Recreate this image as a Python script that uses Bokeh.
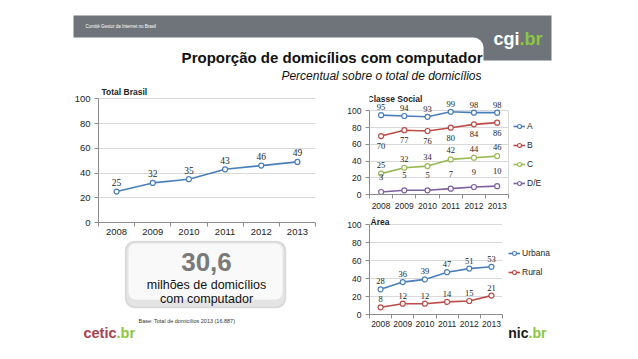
from bokeh.plotting import figure
from bokeh.layouts import column, row
from bokeh.models import (ColumnDataSource, LabelSet, Label, Legend, LegendItem,
                          FixedTicker, Range1d, BoxAnnotation)
from bokeh.embed import file_html
from bokeh.resources import INLINE

# ---------------- data ----------------
years = [2008, 2009, 2010, 2011, 2012, 2013]
pct_ticks = [0, 20, 40, 60, 80, 100]

total_brasil = [25, 32, 35, 43, 46, 49]

classe_names = ["A", "B", "C", "D/E"]
classe_a = [95, 94, 93, 99, 98, 98]
classe_b = [70, 77, 76, 80, 84, 86]
classe_c = [25, 32, 34, 42, 44, 46]
classe_de = [3, 5, 5, 7, 9, 10]

area_names = ["Urbana", "Rural"]
area_urbana = [28, 36, 39, 47, 51, 53]
area_rural = [8, 12, 12, 14, 15, 21]

headline_value = "30,6"
headline_text = ["milhões de domicílios", "com computador"]
base_note = "Base: Total de domicílios 2013  (16.887)"

FONT = "Liberation Sans"
BLUE = "#4a7ebb"
RED = "#be4b48"
GREEN = "#98b954"
PURPLE = "#7d60a0"
GRAY_BAR = "#6e7479"
LOGO_GREEN = "#8cc63f"
AXIS = "#8c8c8c"
GRID = "#d9d9d9"
TXT = "#1e1e1e"

X0, X1 = years[0] - 0.5, years[-1] + 0.5
Y0, Y1 = pct_ticks[0], pct_ticks[-1]


def chart(w, h, left, right, top, bottom, x_end, y_end, tick_fs, std_x, border):
    p = figure(width=w, height=h,
               x_range=Range1d(X0, x_end), y_range=Range1d(Y0, y_end),
               output_backend="svg", toolbar_location=None,
               min_border_left=left, min_border_right=right,
               min_border_top=top, min_border_bottom=bottom)
    p.frame_align = False
    p.xaxis.ticker = FixedTicker(ticks=years,
                                 minor_ticks=[y - 0.5 for y in years] + [X1])
    p.yaxis.ticker = FixedTicker(ticks=pct_ticks, minor_ticks=[])
    p.xaxis.bounds = (X0, X1)
    p.yaxis.bounds = (Y0, Y1)
    p.ygrid.grid_line_color = GRID
    p.outline_line_color = None
    try:
        p.ygrid.cross_bounds = (X0, X1)
        p.xgrid.cross_bounds = (Y0, Y1)
    except Exception:
        pass
    if border:
        p.xgrid.ticker = FixedTicker(ticks=[X1], minor_ticks=[])
        p.xgrid.grid_line_color = GRID
    else:
        p.xgrid.visible = False
    for ax in (p.xaxis[0], p.yaxis[0]):
        ax.axis_line_color = AXIS
        ax.major_label_text_font = FONT
        ax.major_label_text_font_size = tick_fs
        ax.major_label_text_color = TXT
    p.xaxis.major_tick_out = 0
    p.xaxis.major_tick_in = 0
    p.xaxis.minor_tick_out = 4
    p.xaxis.minor_tick_in = 0
    p.xaxis.minor_tick_line_color = AXIS
    p.xaxis.major_label_standoff = std_x
    p.yaxis.major_tick_out = 4
    p.yaxis.major_tick_in = 0
    p.yaxis.major_tick_line_color = AXIS
    p.yaxis.minor_tick_line_color = None
    p.yaxis.major_label_standoff = 4
    p.border_fill_color = "white"
    return p


def series(p, vals, color, off, fs):
    src = ColumnDataSource(dict(x=years, y=vals, t=[str(v) for v in vals]))
    r1 = p.line("x", "y", source=src, line_color=color, line_width=1.6)
    r2 = p.scatter("x", "y", source=src, marker="circle", size=5,
                   line_color=color, fill_color="white", line_width=1.2)
    p.add_layout(LabelSet(x="x", y="y", text="t", source=src, y_offset=off,
                          text_align="center", text_baseline="middle",
                          text_font=FONT, text_font_size=fs, text_color=TXT))
    return [r1, r2]


def chart_title(p, text, xo, yo):
    p.add_layout(Label(x=X0, y=Y1, x_offset=xo, y_offset=yo,
                       text=text, text_font=FONT, text_font_style="bold",
                       text_font_size="8.5px", text_color=TXT,
                       text_baseline="middle", text_align="left"))


def legend(p, items, vx, vy):
    lg = Legend(items=items, location=(vx, vy), padding=0, margin=0,
                spacing=9, glyph_width=12, glyph_height=10, label_height=10,
                label_standoff=2, border_line_color=None,
                background_fill_alpha=0, label_text_font=FONT,
                label_text_font_size="8.5px", label_text_color=TXT)
    p.add_layout(lg)


def deco(w, h, x0, x1, y_bottom, y_top):
    d = figure(width=w, height=h, x_range=Range1d(x0, x1), y_range=Range1d(y_bottom, y_top),
               output_backend="svg", toolbar_location=None, min_border=0,
               x_axis_type=None, y_axis_type=None)
    d.frame_align = False
    d.grid.visible = False
    d.outline_line_color = None
    return d


def logo(p, x, y, left_text, left_color, size):
    p.add_layout(Label(x=x, y=y, text=left_text, text_align="right",
                       text_baseline="alphabetic", text_font=FONT, text_font_style="bold",
                       text_font_size=size, text_color=left_color))
    p.add_layout(Label(x=x, y=y, text=".br", text_align="left",
                       text_baseline="alphabetic", text_font=FONT, text_font_style="bold",
                       text_font_size=size, text_color=LOGO_GREEN))


# ---------------- header (window px coordinates) ----------------
hdr = deco(630, 84, 0, 630, 84, 0)
hdr.add_layout(BoxAnnotation(left=73, right=551, top=15, bottom=60,
                             fill_color=GRAY_BAR, fill_alpha=1, line_color=None))
hdr.add_layout(BoxAnnotation(left=40, right=483, top=37, bottom=110,
                             fill_color="white", fill_alpha=1, line_color=None,
                             border_radius=10))
hdr.add_layout(Label(x=85, y=26, text="Comitê Gestor da Internet no Brasil",
                     text_font=FONT, text_font_size="4.5px", text_color="white",
                     text_baseline="middle"))
logo(hdr, 519, 38, "cgi", "white", "18px")
hdr.add_layout(Label(x=482, y=57, text="Proporção de domicílios com computador",
                     text_align="right", text_baseline="alphabetic",
                     text_font=FONT, text_font_style="bold", text_font_size="15px",
                     text_color="#111111"))
hdr.add_layout(Label(x=481, y=75, text="Percentual sobre o total de domicílios",
                     text_align="right", text_baseline="alphabetic",
                     text_font=FONT, text_font_style="italic", text_font_size="12px",
                     text_color="#111111"))

# ---------------- Total Brasil ----------------
# figure y 84..240 ; frame 98..315 x 84..222 ; 100 units = 123.7 px
p1 = chart(340, 156, 98, 25, 0, 18, X1, 138 / 1.237, "9.5px", 2, False)
series(p1, total_brasil, BLUE, 9, "9.5px")
chart_title(p1, "Total Brasil", 3, 7)

# ---------------- box + footer (window px coordinates) ----------------
box = deco(340, 103, 0, 340, 343, 240)
box.add_layout(BoxAnnotation(left=125, right=285, top=241, bottom=307,
                             fill_color="#e4e4e4", fill_alpha=1,
                             line_color="#a0a0a0", line_width=1.5, border_radius=9))
box.add_layout(BoxAnnotation(left=128, right=282, top=243, bottom=299,
                             fill_color="#f9f9f9", fill_alpha=1,
                             line_color=None, border_radius=7))
box.add_layout(Label(x=206, y=261, text=headline_value, text_align="center",
                     text_baseline="middle", text_font=FONT, text_font_style="bold",
                     text_font_size="26px", text_color="#7a7a7a"))
box.add_layout(Label(x=206, y=284, text=headline_text[0], text_align="center",
                     text_baseline="middle", text_font=FONT,
                     text_font_size="12.5px", text_color="#111111"))
box.add_layout(Label(x=206, y=298, text=headline_text[1], text_align="center",
                     text_baseline="middle", text_font=FONT,
                     text_font_size="12.5px", text_color="#111111"))
logo(box, 116, 332, "cetic", "#a8424f", "14.5px")
box.add_layout(Label(x=138, y=320, text=base_note, text_align="left",
                     text_baseline="middle", text_font=FONT,
                     text_font_size="5.5px", text_color="#333333"))

# ---------------- Classe Social ----------------
# figure y 84..211 ; frame 369..560 x 86..195 ; 6 years = 133 px ; 100 units = 84.3 px
p2 = chart(290, 127, 29, 61, 2, 16, X0 + 191 / 22.17, 109 / 0.843, "8.5px", 4, True)
items = []
for name, vals, color, off in zip(classe_names,
                                  [classe_a, classe_b, classe_c, classe_de],
                                  [BLUE, RED, GREEN, PURPLE],
                                  [8, -10, 9, 15]):
    rs = series(p2, vals, color, off, "8.5px")
    items.append(LegendItem(label=name, renderers=rs))
legend(p2, items, 144, 6)
chart_title(p2, "Classe Social", -2, 12)

# ---------------- Área ----------------
# figure y 211..343 ; frame 369..502 x 212..314 ; 100 units = 90 px
p3 = chart(166, 132, 29, 4, 1, 29, X1, 102 / 0.9, "8.5px", 2, True)
for name, vals, color in zip(area_names, [area_urbana, area_rural], [BLUE, RED]):
    series(p3, vals, color, 8, "8.5px")
chart_title(p3, "Área", 1, 3)

# legend + nic.br strip to the right of the Área chart (window px coordinates)
strip = deco(124, 132, 506, 630, 343, 211)
items = []
nan = float("nan")
for name, color in zip(area_names, [BLUE, RED]):
    r1 = strip.line(x=[nan], y=[nan], line_color=color, line_width=1.6)
    r2 = strip.scatter(x=[nan], y=[nan], marker="circle", size=5, line_color=color,
                       fill_color="white", line_width=1.2)
    items.append(LegendItem(label=name, renderers=[r1, r2]))
legend(strip, items, 2, 66)
logo(strip, 528, 332, "nic", "#1a1a1a", "14px")

layout = column(hdr, row(column(p1, box), column(p2, row(p3, strip))))
open("out.html", "w").write(file_html(layout, INLINE))
